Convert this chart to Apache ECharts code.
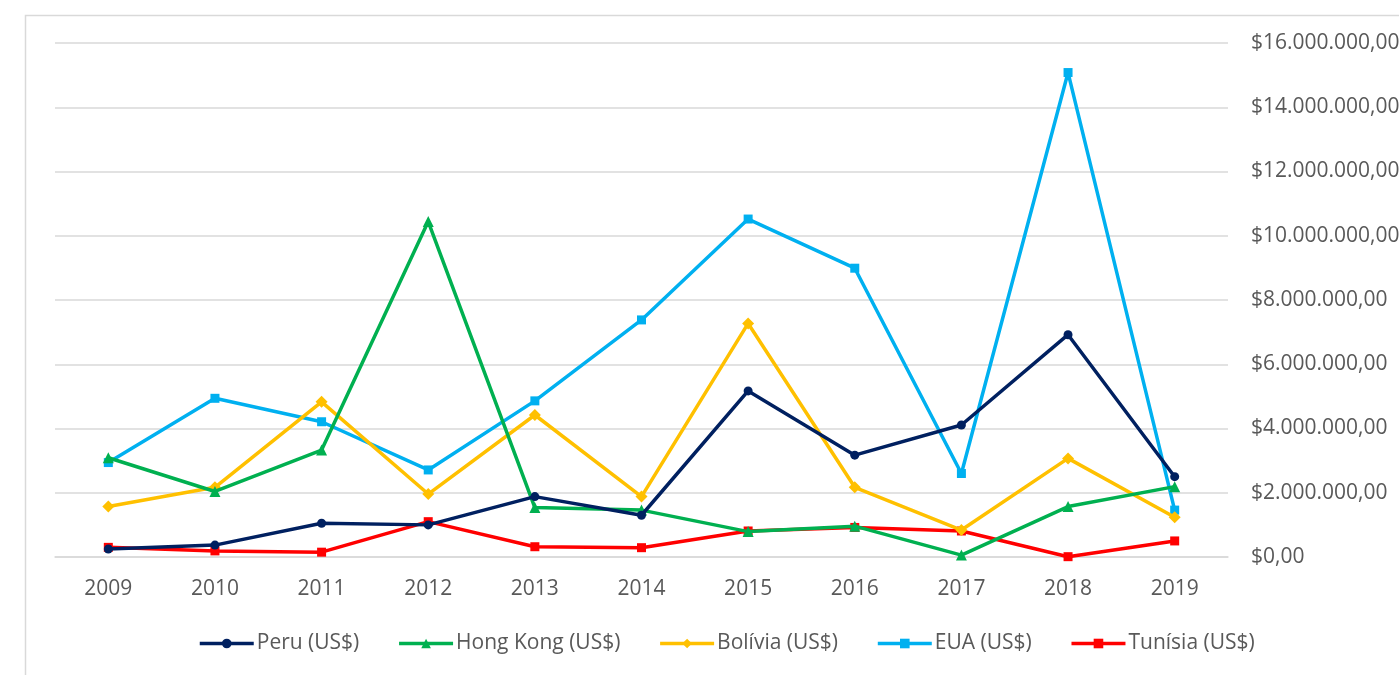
<!DOCTYPE html>
<html>
<head>
<meta charset="utf-8">
<script src="https://cdn.jsdelivr.net/npm/echarts@6/dist/echarts.min.js"></script>
<style>
html,body{margin:0;padding:0;background:#fff;}
#chart{width:1399px;height:675px;}
</style>
</head>
<body>
<div id="chart"></div>
<script>
const years = ['2009','2010','2011','2012','2013','2014','2015','2016','2017','2018','2019'];
const peru     = [250000, 370000, 1050000, 1000000, 1880000, 1300000, 5170000, 3170000, 4110000, 6920000, 2500000];
const hongKong = [3090000, 2040000, 3330000, 10440000, 1540000, 1460000, 790000, 960000, 60000, 1570000, 2190000];
const bolivia  = [1570000, 2170000, 4830000, 1960000, 4420000, 1880000, 7270000, 2170000, 840000, 3070000, 1240000];
const eua      = [2940000, 4940000, 4210000, 2710000, 4860000, 7380000, 10520000, 8990000, 2600000, 15080000, 1460000];
const tunisia  = [300000, 190000, 150000, 1100000, 320000, 290000, 810000, 920000, 810000, 10000, 500000];
const seriesNames = ['Peru (US$)', 'Hong Kong (US$)', 'Bolívia (US$)', 'EUA (US$)', 'Tunísia (US$)'];
const yTicks = {min: 0, max: 16000000, interval: 2000000};

function fmtBRL(v){
  const parts = Math.round(v).toString().replace(/\B(?=(\d{3})+(?!\d))/g, '.');
  return '$' + parts + ',00';
}

const colors = ['#002060', '#00B050', '#FFC000', '#00B0F0', '#FF0000'];
const symbols = ['circle', 'triangle', 'diamond', 'rect', 'rect'];
const sizes = [9, 11, 12, 9, 9];
const dataSets = [peru, hongKong, bolivia, eua, tunisia];
const font = '"Open Sans", sans-serif';

const chart = echarts.init(document.getElementById('chart'), null, {renderer: 'canvas'});
chart.setOption({
  animation: false,
  backgroundColor: '#fff',
  graphic: [{
    type: 'rect',
    left: 23, top: 13,
    shape: {width: 1450, height: 700},
    style: {fill: 'none', stroke: '#d9d9d9', lineWidth: 1.5},
    silent: true
  }],
  grid: {left: 55, right: 171, top: 43, bottom: 118, containLabel: false, outerBoundsMode: 'none'},
  legend: {
    bottom: 16,
    left: 193,
    itemWidth: 54,
    itemHeight: 12,
    itemGap: 38,
    lineStyle: {width: 3.5},
    textStyle: {color: '#595959', fontSize: 21, fontFamily: font, padding: [0, 0, 0, -2]},
    data: seriesNames
  },
  xAxis: {
    type: 'category',
    data: years,
    boundaryGap: true,
    axisLine: {show: true, lineStyle: {color: '#d9d9d9', width: 1.5}},
    axisTick: {show: false},
    axisLabel: {color: '#595959', fontSize: 21, fontFamily: font, margin: 22}
  },
  yAxis: {
    type: 'value',
    position: 'right',
    min: yTicks.min, max: yTicks.max, interval: yTicks.interval,
    axisLine: {show: false},
    axisTick: {show: false},
    splitLine: {lineStyle: {color: '#d9d9d9', width: 1.5}},
    axisLabel: {color: '#595959', fontSize: 21, fontFamily: font, margin: 23, formatter: fmtBRL}
  },
  series: seriesNames.map((n, i) => ({
    name: n,
    type: 'line',
    data: dataSets[i],
    symbol: symbols[i],
    symbolSize: sizes[i],
    showAllSymbol: true,
    lineStyle: {color: colors[i], width: 3.5},
    itemStyle: {color: colors[i]},
    z: 10 - i
  }))
});
</script>
</body>
</html>
